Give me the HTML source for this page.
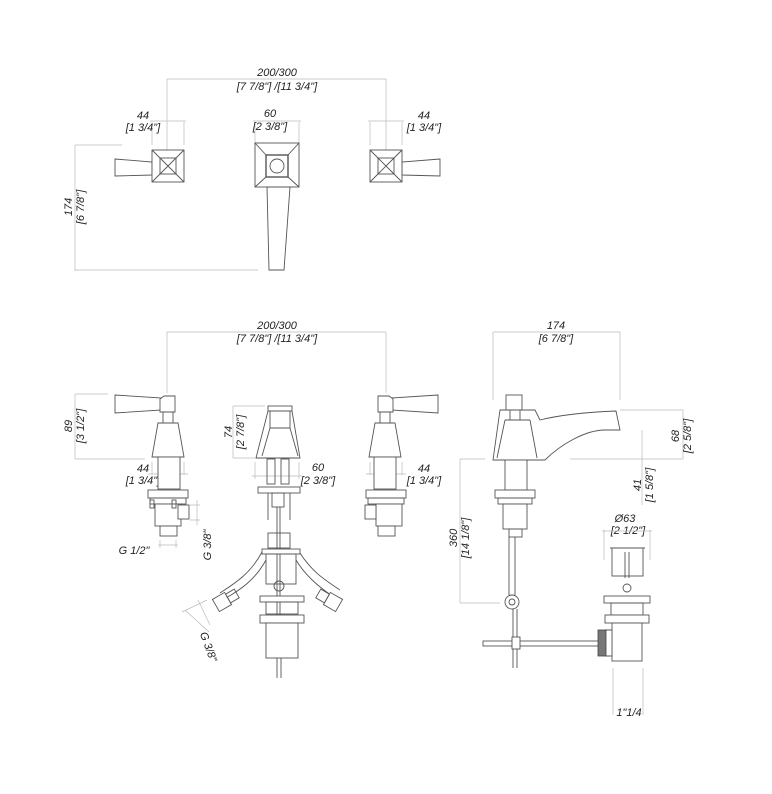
<!DOCTYPE html>
<html><head><style>
html,body{margin:0;padding:0;background:#fff;}
svg{display:block;}
text{font-family:"Liberation Sans",sans-serif;font-style:italic;font-size:11px;fill:#222;}
.s{fill:none;stroke:#555;stroke-width:0.9;}
.f{fill:#fff;stroke:#555;stroke-width:0.9;}
.d{fill:none;stroke:#bbb;stroke-width:0.7;}
</style></head><body>
<svg width="772" height="794" viewBox="0 0 772 794" xmlns="http://www.w3.org/2000/svg">
<path class="d" d="M167 79H386M167 79V150M386 79V150"/>
<text x="277" y="76" text-anchor="middle">200/300</text>
<text x="277" y="90" text-anchor="middle">[7 7/8"] /[11 3/4"]</text>
<path class="d" d="M152 122V145M184 122V145M150 121H186"/>
<text x="143" y="119" text-anchor="middle">44</text>
<text x="143" y="131" text-anchor="middle">[1 3/4"]</text>
<path class="d" d="M255 122V143M299 122V143M253 121H301"/>
<text x="270" y="117" text-anchor="middle">60</text>
<text x="270" y="130" text-anchor="middle">[2 3/8"]</text>
<path class="d" d="M370 122V145M402 122V145M368 121H404"/>
<text x="424" y="119" text-anchor="middle">44</text>
<text x="424" y="131" text-anchor="middle">[1 3/4"]</text>
<path class="d" d="M75 145V271M75 145H122M75 270H258"/>
<text transform="translate(72,207) rotate(-90)" text-anchor="middle">174</text>
<text transform="translate(84,207) rotate(-90)" text-anchor="middle">[6 7/8"]</text>
<path class="f" d="M115 159L152 162V175L115 176Z"/>
<rect class="f" x="152" y="150" width="32" height="32"/>
<rect class="s" x="160" y="158" width="16" height="16"/>
<path class="s" d="M152 150L160 158M184 150L176 158M152 182L160 174M184 182L176 174M160 158L176 174M176 158L160 174"/>
<rect class="f" x="255" y="143" width="44" height="44"/>
<rect class="s" x="266" y="155" width="22" height="22" style="stroke-width:1.4"/>
<circle class="s" cx="277" cy="166" r="7"/>
<path class="s" d="M255 143L266 155M299 143L288 155M255 187L266 177M299 187L288 177"/>
<path class="f" d="M267 187L269 270H284L290 187Z"/>
<path class="f" d="M440 159L402 162V175L440 176Z"/>
<rect class="f" x="370" y="150" width="32" height="32"/>
<rect class="s" x="378" y="158" width="16" height="16"/>
<path class="s" d="M370 150L378 158M402 150L394 158M370 182L378 174M402 182L394 174M378 158L394 174M394 158L378 174"/>

<path class="d" d="M167 332H386M167 332V393M386 332V393"/>
<text x="277" y="329" text-anchor="middle">200/300</text>
<text x="277" y="342" text-anchor="middle">[7 7/8"] /[11 3/4"]</text>
<path class="d" d="M75 394H108M75 394V459M75 459H145"/>
<text transform="translate(72,426) rotate(-90)" text-anchor="middle">89</text>
<text transform="translate(84,426) rotate(-90)" text-anchor="middle">[3 1/2"]</text>
<path class="d" d="M152 462V475M184 462V475M148 474H188"/>
<text x="143" y="472" text-anchor="middle">44</text>
<text x="143" y="484" text-anchor="middle">[1 3/4"]</text>
<path class="d" d="M233 406H265M233 406V458M233 458H255"/>
<text transform="translate(232,432) rotate(-90)" text-anchor="middle">74</text>
<text transform="translate(244,432) rotate(-90)" text-anchor="middle">[2 7/8"]</text>
<path class="d" d="M255 462V479M299 462V479M252 476H302"/>
<text x="318" y="471" text-anchor="middle">60</text>
<text x="318" y="484" text-anchor="middle">[2 3/8"]</text>
<path class="d" d="M370 462V475M402 462V475M366 474H406"/>
<text x="424" y="472" text-anchor="middle">44</text>
<text x="424" y="484" text-anchor="middle">[1 3/4"]</text>
<path class="f" d="M115 395L162 398V410L115 413Z"/>
<path class="f" d="M160 399L164 396H175V412H160Z"/>
<rect class="s" x="163" y="412" width="10" height="12"/>
<path class="f" d="M158 423H178L184 457H152Z"/>
<rect class="f" x="158" y="457" width="22" height="32"/>
<rect class="f" x="148" y="490" width="40" height="8"/>
<rect class="s" x="150" y="498" width="36" height="6"/>
<rect class="f" x="155" y="504" width="26" height="22"/>
<rect class="s" x="150" y="500" width="4" height="8"/><rect class="s" x="172" y="500" width="4" height="8"/>
<rect class="f" x="178" y="505" width="11" height="14"/>
<rect class="f" x="160" y="526" width="17" height="10"/>
<path class="d" d="M190 505H200M190 520H200M197 500V525M160 540V548M176 540V548M158 545H178"/>
<text x="134" y="554" text-anchor="middle">G 1/2"</text>
<text transform="translate(211,545) rotate(-90)" text-anchor="middle">G 3/8"</text>
<rect class="f" x="268" y="406" width="24" height="5"/>
<path class="f" d="M268 411H292L300 458H256Z"/>
<path class="s" d="M270 411V428H290V411M270 428L262 456M290 428L298 456"/>
<rect class="s" x="267" y="459" width="8" height="25"/><rect class="s" x="281" y="459" width="8" height="25"/>
<rect class="f" x="258" y="487" width="42" height="6"/>
<rect class="s" x="272" y="493" width="12" height="14"/>
<path class="s" d="M268 493V520M290 493V520M277 507V640M280 507V640"/>
<rect class="s" x="268" y="533" width="22" height="15"/>
<rect class="f" x="262" y="549" width="38" height="5"/>
<rect class="s" x="266" y="554" width="30" height="30"/>
<path class="s" d="M266 560C255 580 240 590 226 598M262 552C250 575 232 585 220 593M296 560C305 575 320 588 334 597M300 553C312 572 325 580 340 590"/>
<g transform="translate(222,602) rotate(-30)"><rect class="f" x="-7" y="-7" width="14" height="14"/><rect class="s" x="7" y="-5" width="10" height="10"/></g>
<g transform="translate(333,602) rotate(30)"><rect class="f" x="-7" y="-7" width="14" height="14"/><rect class="s" x="-17" y="-5" width="10" height="10"/></g>
<circle class="s" cx="279" cy="586" r="5"/>
<rect class="f" x="260" y="596" width="44" height="6"/>
<rect class="s" x="266" y="602" width="32" height="12"/>
<rect class="f" x="260" y="615" width="44" height="8"/>
<rect class="f" x="266" y="623" width="32" height="35"/>
<path class="s" d="M277 658V678M281 658V678"/>
<path class="d" d="M185 610L209 632M182 612L207 600M198 600L210 625"/>
<text transform="translate(205,648) rotate(70)" text-anchor="middle">G 3/8"</text>
<path class="f" d="M438 395L391 398V410L438 413Z"/>
<path class="f" d="M393 399L389 396H378V412H393Z"/>
<rect class="s" x="380" y="412" width="10" height="12"/>
<path class="f" d="M375 423H395L401 457H369Z"/>
<rect class="f" x="374" y="457" width="22" height="32"/>
<rect class="f" x="366" y="490" width="40" height="8"/>
<rect class="s" x="368" y="498" width="36" height="6"/>
<rect class="f" x="376" y="504" width="26" height="22"/>
<rect class="f" x="365" y="505" width="11" height="14"/>
<rect class="f" x="378" y="526" width="17" height="10"/>

<path class="d" d="M493 332H620M493 332V400M620 332V400"/>
<text x="556" y="329" text-anchor="middle">174</text>
<text x="556" y="342" text-anchor="middle">[6 7/8"]</text>
<path class="d" d="M620 410H683V459M683 459H570"/>
<text transform="translate(679,436) rotate(-90)" text-anchor="middle">68</text>
<text transform="translate(691,436) rotate(-90)" text-anchor="middle">[2 5/8"]</text>
<path class="d" d="M642 430V505"/>
<text transform="translate(641,485) rotate(-90)" text-anchor="middle">41</text>
<text transform="translate(653,485) rotate(-90)" text-anchor="middle">[1 5/8"]</text>
<path class="d" d="M460 459H485M460 459V603M460 603H500"/>
<text transform="translate(457,538) rotate(-90)" text-anchor="middle">360</text>
<text transform="translate(469,538) rotate(-90)" text-anchor="middle">[14 1/8"]</text>
<text x="625" y="522" text-anchor="middle">Ø63</text>
<text x="628" y="534" text-anchor="middle">[2 1/2"]</text>
<path class="d" d="M604 530V560M650 530V560M602 531H652M613 668V715M643 668V715"/>
<text x="629" y="716" text-anchor="middle">1"1/4</text>
<rect class="f" x="506" y="395" width="16" height="15"/>
<path class="f" d="M500 410H535L540 420C560 415 590 412 616 411L620 430H605C585 430 560 445 545 460H493Z"/>
<path class="s" d="M505 420H530M505 420L497 458M530 420L537 458M510 410V420M520 410V420"/>
<rect class="f" x="505" y="460" width="22" height="30"/>
<rect class="f" x="495" y="490" width="40" height="8"/>
<rect class="s" x="498" y="498" width="34" height="6"/>
<rect class="f" x="503" y="504" width="24" height="25"/>
<rect class="s" x="509" y="529" width="13" height="8"/>
<path class="s" d="M509 537V595M515 537V595"/>
<circle class="f" cx="512" cy="602" r="7"/><circle class="s" cx="512" cy="602" r="3"/>
<path class="s" d="M513 609V668M517 609V668"/>
<rect class="s" x="483" y="641" width="117" height="5"/>
<rect class="f" x="512" y="637" width="8" height="12"/>
<rect class="f" x="612" y="548" width="31" height="28"/>
<path class="s" d="M610 548H645M625 552V578M629 552V578"/>
<circle class="s" cx="627" cy="588" r="4"/>
<rect class="f" x="604" y="596" width="46" height="7"/>
<rect class="s" x="611" y="603" width="32" height="12"/>
<rect class="f" x="605" y="615" width="44" height="8"/>
<rect class="f" x="612" y="623" width="30" height="38"/>
<path class="f" d="M605 630H612V656H605Z"/>
<rect x="598" y="630" width="8" height="26" style="fill:#777;stroke:#444;stroke-width:0.8"/>
</svg>
</body></html>
